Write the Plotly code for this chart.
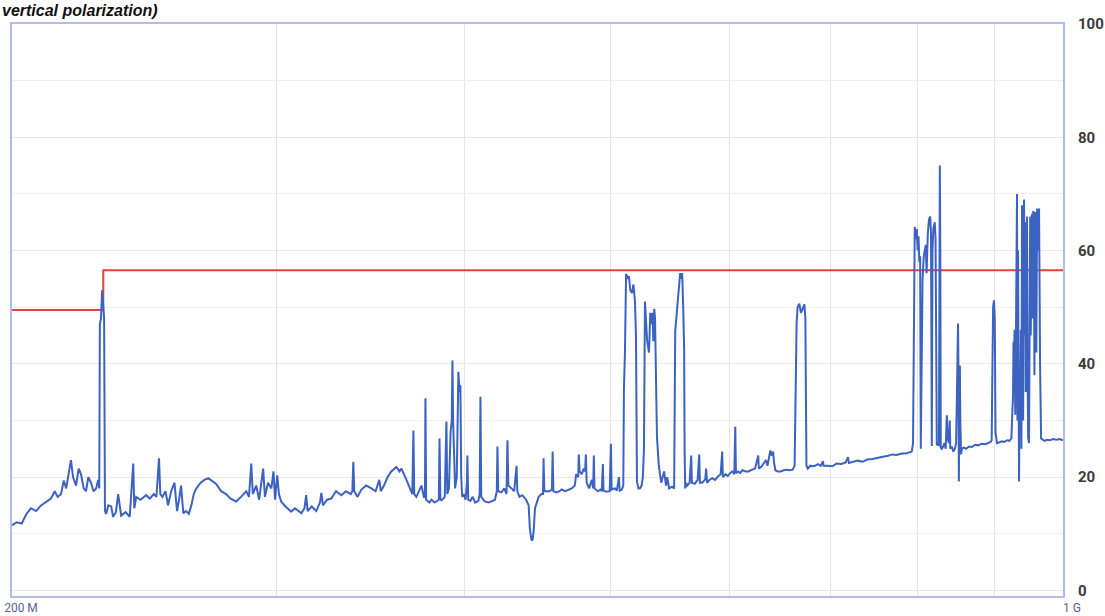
import plotly.graph_objects as go

# 扫描频率 (MHz) / 电平 (dBuV/m) - 从图上读出
freq_mhz = [
    200, 201.5, 203, 204.5, 205.9, 207.5, 209.1, 210.5, 212.3, 213.5, 214.5, 215.6, 216.5, 217.3,
    218.3, 218.9, 219.6, 220.6, 221.5, 222.3, 223.2, 224.0, 224.8, 225.7, 226.6, 227.5, 228.2,
    228.6, 228.8, 229.2, 229.6, 229.9, 230.3, 230.6, 231.0, 231.8, 232.8, 233.5, 234.5, 235.3,
    236.4, 238.0, 239.5, 240.8, 241.2, 241.9, 243.5, 245.6, 247.0, 248.5, 249.5, 250.5, 251.0,
    251.8, 253.0, 254.0, 255.2, 256.5, 257.5, 258.3, 259.1, 260.0, 261.1, 262.2, 263.2, 264.2,
    265.2, 267.0, 268.5, 270.1, 271.8, 273.4, 275.5, 277.6, 279.5, 281.9, 284.0, 286.3, 287.5,
    288.5, 289.2, 290.7, 292.0, 293.8, 294.6, 296.0, 297.5, 298.5, 299.2, 300.2, 301.0, 302.0,
    304.0, 306.7, 308.5, 311.5, 313.0, 313.8, 314.5, 316.5, 318.7, 320.5, 321.2, 322.0, 324.0,
    326.1, 328.5, 331.2, 333.5, 336.0, 336.8, 337.3, 337.8, 339.5, 341.5, 344.0, 346.8, 349.0,
    351.0, 351.8, 353.5, 355.5, 357.5, 360.3, 362.0, 363.1, 365.9, 368.7, 369.2, 369.8, 370.3,
    371.5, 373.0, 374.4, 375.8, 376.4, 376.7, 377.1, 379.0, 380.2, 382.0, 384.5, 384.9, 385.4,
    386.1, 388.0, 389.0, 389.5, 390.5, 391.5, 392.2, 392.6, 393.0, 393.5, 394.2, 395.2, 395.8,
    396.2, 396.8, 397.4, 397.9, 398.5, 399.5, 400.6, 401.4, 401.7, 402.2, 403.5, 405.0, 406.5,
    408.5, 409.3, 409.8, 410.3, 412.5, 415.0, 416.8, 419.0, 420.2, 420.6, 421.1, 423.2, 425.0,
    426.5, 427.1, 427.7, 429.8, 431.5, 433.1, 433.6, 435.0, 437.0, 439.5, 441.2, 442.0, 443.0,
    443.8, 444.6, 445.5, 447.0, 448.0, 450.0, 451.0, 451.4, 451.9, 453.5, 455.5, 457.2, 457.7,
    458.2, 460.5, 462.5, 464.1, 466.5, 469.0, 471.3, 473.5, 474.5, 476.0, 476.4, 477.0, 478.6,
    480.0, 481.0, 481.6, 482.2, 484.0, 486.0, 487.0, 487.5, 488.0, 490.5, 492.5, 493.5, 494.3,
    494.8, 497.0, 499.5, 500.4, 501.0, 503.5, 505.0, 506.6, 507.2, 508.9, 510.0, 510.5, 511.3,
    512.2, 513.5, 514.4, 515.5, 516.8, 518.0, 519.2, 520.0, 520.8, 522.0, 523.2, 524.5, 525.5,
    526.4, 527.2, 528.2, 529.0, 530.5, 531.5, 532.5, 533.3, 534.0, 534.8, 535.4, 536.0, 537.0,
    538.5, 540.5, 542.9, 544.5, 545.5, 547.1, 549.5, 551.3, 552.2, 553.8, 555.2, 556.4, 557.2,
    558.1, 559.0, 559.8, 560.2, 560.7, 561.5, 562.4, 564.5, 565.9, 566.5, 569.0, 571.5, 572.9,
    573.5, 575.5, 578.2, 579.0, 579.8, 582.0, 584.4, 587.0, 590.0, 592.0, 593.4, 594.0, 596.5,
    598.5, 600.7, 602.5, 604.5, 605.4, 606.0, 608.0, 610.0, 612.0, 615.0, 618.0, 621.0, 624.0,
    627.1, 627.6, 630.0, 632.5, 634.5, 636.0, 637.5, 638.8, 640.0, 641.5, 642.5, 643.7, 646.0,
    649.0, 652.0, 655.0, 658.0, 661.0, 663.0, 663.8, 665.0, 666.0, 667.8, 669.5, 671.5, 673.0,
    674.0, 675.1, 676.5, 679.0, 681.3, 684.0, 687.0, 690.0, 692.5, 693.0, 697.0, 702.5, 707.0,
    712.0, 717.0, 719.5, 720.5, 724.4, 730.0, 735.7, 741.0, 747.0, 752.0, 758.6, 764.0, 770.0,
    775.0, 780.0, 787.2, 791.0, 793.3, 794.8, 795.2, 795.7, 796.9, 798.0, 799.4, 800.5, 801.5,
    802.5, 803.5, 804.3, 805.5, 806.5, 808.0, 809.2, 810.5, 811.5, 813.0, 814.5, 816.0, 817.0,
    818.0, 818.8, 820.0, 821.7, 822.7, 824.3, 825.5, 827.0, 828.1, 828.7, 829.3, 830.6, 832.0,
    834.0, 835.5, 837.0, 838.0, 839.5, 840.8, 841.5, 843.4, 845.5, 847.5, 849.0, 849.9, 850.5,
    851.5, 852.0, 852.6, 853.3, 853.9, 854.5, 855.5, 856.5, 859.0, 862.0, 866.0, 869.8, 874.0,
    878.0, 883.3, 888.0, 892.0, 895.0, 896.5, 897.5, 898.5, 899.7, 900.8, 901.8, 903.8, 906.5,
    910.8, 914.0, 917.8, 921.0, 924.0, 925.5, 926.3, 927.0, 927.7, 928.5, 929.5, 930.5, 932.0,
    932.6, 933.5, 934.2, 934.9, 935.6, 936.5, 937.5, 938.3, 939.2, 940.0, 940.8, 941.5, 942.1,
    943.0, 943.8, 944.6, 945.3, 946.4, 947.2, 948.0, 949.3, 950.2, 951.0, 951.8, 952.6, 953.7,
    954.5, 955.4, 956.3, 957.2, 958.1, 959.0, 960.0, 961.1, 962.0, 963.0, 964.0, 965.5, 967.0,
    969.5, 972.0, 975.9, 980.0, 985.0, 990.0, 995.0, 1000,
]
level_dbuv = [
    11.5, 12.0, 11.8, 13.5, 14.5, 14.0, 15.0, 15.5, 16.2, 17.5, 16.5, 17.0, 19.4, 18.0,
    21.0, 23.0, 20.0, 18.5, 21.5, 20.5, 18.0, 17.5, 20.0, 19.0, 17.5, 18.0, 19.5,
    18.0, 47.0, 48.0, 53.0, 50.0, 48.0, 14.0, 13.5, 15.0, 14.8, 13.0, 13.8, 17.0,
    13.2, 13.8, 13.0, 22.4, 14.5, 16.5, 16.0, 16.8, 16.2, 17.0, 16.5, 23.3, 17.0,
    16.5, 17.5, 15.0, 17.5, 19.0, 14.0, 16.0, 18.5, 13.6, 14.0, 13.5, 15.0, 17.0,
    18.0, 19.0, 19.5, 19.8, 19.2, 18.8, 17.5, 17.0, 16.2, 15.7, 16.5, 17.5, 16.5,
    22.4, 17.0, 18.5, 16.0, 21.5, 16.5, 19.0, 18.0, 21.0, 16.0, 20.3, 17.0, 15.7,
    14.8, 13.9, 14.5, 13.6, 14.5, 16.8, 14.0, 14.8, 14.0, 15.5, 17.2, 15.0, 16.0,
    16.2, 17.5, 16.8, 17.5, 17.0, 17.5, 22.7, 17.5, 16.5, 17.8, 18.5, 18.0, 17.5,
    19.5, 17.5, 18.5, 20.0, 21.0, 21.8, 21.0, 21.5, 19.5, 17.6, 17.0, 28.2, 17.0,
    16.5, 17.5, 18.5, 16.5, 16.5, 33.9, 16.0, 15.5, 16.0, 15.5, 16.0, 26.8, 16.0,
    15.9, 16.5, 29.8, 17.0, 18.0, 28.0, 30.0, 40.6, 30.0, 25.0, 18.0, 20.0, 30.0,
    38.6, 35.0, 36.2, 20.0, 16.5, 17.0, 16.0, 19.0, 23.8, 16.0, 15.8, 16.5, 15.5,
    15.8, 17.0, 34.2, 16.5, 15.7, 15.5, 15.7, 16.0, 17.5, 25.4, 17.5, 17.3, 18.0,
    17.0, 26.5, 18.5, 18.0, 17.5, 22.0, 17.5, 16.5, 16.8, 16.0, 15.0, 11.0, 9.0,
    8.8, 10.5, 14.5, 15.5, 16.5, 17.0, 17.0, 23.3, 17.5, 17.5, 17.5, 17.8, 24.5,
    17.5, 17.3, 17.5, 17.8, 17.5, 17.8, 18.0, 18.5, 20.5, 20.0, 24.0, 21.0, 20.5,
    21.5, 21.0, 24.0, 19.0, 18.0, 19.5, 18.0, 23.8, 18.0, 17.5, 17.8, 17.5, 22.3,
    17.6, 17.4, 17.5, 25.9, 17.8, 18.0, 17.6, 20.0, 17.6, 17.8, 18.5, 35.6, 42.0,
    55.9, 55.0, 55.5, 53.0, 52.5, 54.0, 51.0, 45.0, 19.2, 18.0, 18.0, 18.5, 20.0,
    25.0, 51.0, 48.0, 44.0, 42.0, 49.0, 47.0, 49.0, 44.0, 49.7, 48.0, 42.0, 27.0,
    22.0, 19.0, 21.0, 18.5, 20.0, 18.0, 18.3, 18.0, 45.7, 50.0, 54.0, 56.0, 55.0,
    56.0, 50.0, 42.7, 25.0, 18.0, 19.0, 18.5, 19.0, 23.8, 19.0, 18.8, 19.5, 24.0,
    19.0, 19.0, 19.6, 21.5, 19.0, 19.5, 19.8, 19.5, 20.2, 20.5, 24.5, 20.0, 20.5,
    20.2, 20.7, 21.0, 20.5, 28.9, 20.7, 21.0, 20.7, 21.2, 21.0, 21.0, 21.3, 21.5,
    23.8, 21.5, 21.8, 22.5, 23.0, 22.0, 23.5, 24.7, 23.8, 24.5, 22.5, 21.2, 21.0,
    21.0, 21.2, 21.3, 21.2, 21.3, 22.0, 38.0, 47.0, 50.0, 50.6, 49.0, 50.0, 50.5,
    48.0, 22.0, 21.5, 22.0, 21.9, 22.0, 22.3, 22.0, 22.8, 22.0, 22.0, 21.9, 22.4,
    22.3, 22.6, 23.5, 22.5, 22.7, 22.9, 22.7, 23.1, 23.2, 23.4, 23.6, 23.7, 24.0,
    23.9, 24.1, 24.2, 24.4, 24.5, 26.0, 34.0, 45.0, 64.2, 62.0, 63.8, 60.0, 62.5,
    58.0, 59.0, 25.0, 50.0, 55.0, 59.0, 60.3, 61.0, 56.0, 63.0, 65.5, 66.0, 63.0,
    25.5, 60.0, 64.0, 65.0, 62.0, 25.6, 26.0, 25.5, 75.0, 60.0, 25.2, 25.0, 25.3,
    26.0, 25.0, 30.9, 27.0, 26.0, 30.0, 25.0, 25.4, 24.5, 25.0, 26.0, 33.0, 44.0,
    47.1, 40.0, 19.2, 33.0, 39.7, 30.0, 24.0, 25.0, 25.2, 25.0, 25.4, 25.3, 25.7,
    25.6, 25.9, 25.8, 26.0, 26.2, 26.5, 40.0, 50.0, 51.2, 48.0, 28.0, 26.0, 26.1,
    26.3, 26.2, 26.5, 26.4, 26.8, 32.0, 34.0, 43.9, 40.0, 46.0, 31.0, 45.0, 70.0,
    30.0, 60.0, 40.0, 19.2, 35.0, 28.0, 46.0, 25.0, 68.0, 55.0, 30.0, 62.0, 69.0,
    45.0, 65.0, 35.0, 60.0, 66.0, 40.0, 27.0, 26.0, 50.0, 66.0, 45.0, 64.0, 66.5,
    48.0, 67.0, 62.0, 38.0, 66.8, 64.0, 42.0, 67.4, 60.0, 65.0, 67.4, 40.0, 26.8,
    26.6, 26.4, 26.6, 26.5, 26.7, 26.6, 26.7, 26.5,
]

# 限值线
limit_freq = [200, 230, 230, 1000]
limit_level = [49.5, 49.5, 56.5, 56.5]

x_tickvals = [200, 1000]
x_ticktext = ['200 M', '1 G']
x_gridvals = [300, 400, 500, 600, 700, 800, 900]
y_tickvals = [0, 20, 40, 60, 80, 100]

fig = go.Figure()
fig.add_trace(go.Scatter(
    x=limit_freq, y=limit_level, mode='lines',
    line=dict(color='#e5423a', width=2),
    name='Limit', hoverinfo='skip',
))
fig.add_trace(go.Scatter(
    x=freq_mhz, y=level_dbuv, mode='lines',
    line=dict(color='#3c62c2', width=2),
    name='Vertical',
))

# 标题 (原图只露出下半截, 这里整行显示在顶端)
fig.add_annotation(
    x=0, y=1, xref='paper', yref='paper',
    xanchor='left', yanchor='bottom', xshift=-12, yshift=3,
    text='<b><i>vertical polarization)</i></b>', showarrow=False,
    font=dict(family='Liberation Sans, Arial', size=16, color='#111111'),
)

fig.update_layout(
    width=1105, height=616,
    paper_bgcolor='white', plot_bgcolor='white',
    showlegend=False,
    margin=dict(l=12, r=42, t=24, b=20),
    xaxis=dict(
        type='log', range=[2.30103, 3.0], automargin=False,
        tickvals=x_tickvals, ticktext=x_ticktext,
        ticklabelshift=9, ticklabelstandoff=0,
        tickfont=dict(family='Roboto, Liberation Sans', size=12, color='#5a6390'),
        showgrid=True, gridcolor='#e4e4e4', gridwidth=1,
        showline=True, linecolor='#b3bce8', linewidth=2, mirror=True,
        zeroline=False,
        minor=dict(tickvals=x_gridvals, showgrid=True, gridcolor='#e4e4e4', gridwidth=1),
    ),
    yaxis=dict(
        side='right', range=[-1, 100], automargin=False,
        tickvals=y_tickvals, ticklabelstandoff=10,
        tickfont=dict(family='Roboto, Liberation Sans', size=15, color='#3a3a3a', weight='bold'),
        showgrid=True, gridcolor='#e8e8e8', gridwidth=1,
        showline=True, linecolor='#b3bce8', linewidth=2, mirror=True,
        zeroline=False,
        minor=dict(dtick=10, showgrid=True, gridcolor='#efefef', gridwidth=1),
    ),
)

# 页面默认 body 有 8px 边距, 去掉让图贴齐窗口
fig.write_html("out.html", config={'displayModeBar': False},
               post_script="document.body.style.margin='0';")
